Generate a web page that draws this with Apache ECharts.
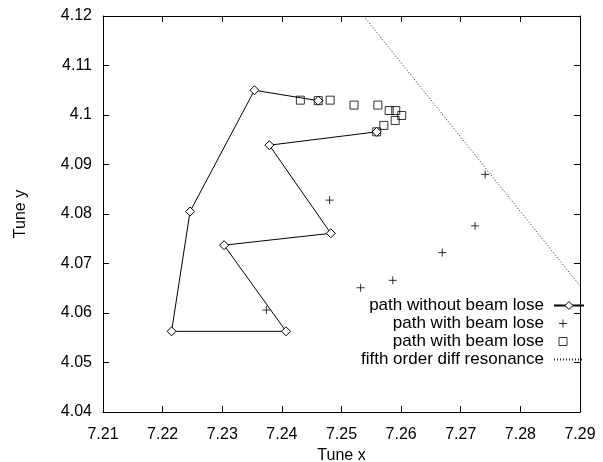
<!DOCTYPE html>
<html>
<head>
<meta charset="utf-8">
<script src="https://cdn.jsdelivr.net/npm/echarts@6/dist/echarts.min.js"></script>
<style>
  html, body { margin: 0; background: #fff; }
  #chart { width: 603px; height: 462px; }
</style>
</head>
<body>
<div id="chart"></div>
<script>
// tune points
const pathWithoutLoss = [
  [7.2559, 4.0966], [7.2379, 4.0939], [7.2482, 4.0761], [7.2303, 4.0737],
  [7.2407, 4.0563], [7.2215, 4.0563], [7.2246, 4.0805], [7.2354, 4.1050],
  [7.2461, 4.1029]
];
const pathWithLossPlus = [
  [7.2379, 4.0939], [7.2482, 4.0761], [7.2303, 4.0737], [7.2407, 4.0563],
  [7.2215, 4.0563], [7.2461, 4.1029], [7.2559, 4.0966], [7.2480, 4.0828],
  [7.2669, 4.0722], [7.2586, 4.0666], [7.2532, 4.0651], [7.2374, 4.0606],
  [7.2741, 4.0880], [7.2724, 4.0776]
];
const pathWithLossSquare = [
  [7.2431, 4.1030], [7.2461, 4.1029], [7.2481, 4.1030], [7.2521, 4.1020],
  [7.2561, 4.1020], [7.2580, 4.1009], [7.2591, 4.1009], [7.2601, 4.0999],
  [7.2590, 4.0989], [7.2571, 4.0979], [7.2559, 4.0966]
];
const resonanceLine = [[7.2537, 4.12], [7.29, 4.0655]];

const xRange = [7.21, 7.29];
const yRange = [4.04, 4.12];
const names = ['path without beam lose', 'path with beam lose', 'path with beam lose #2', 'fifth order diff resonance'];

const FONT = 'Liberation Sans, Arial, Helvetica, sans-serif';
const fmt = v => String(+v.toFixed(2));
const plusPath = 'path://M0,5L10,5M5,0L5,10';

const chart = echarts.init(document.getElementById('chart'));

const baseAxis = {
  interval: 0.01,
  axisLine: { show: true, onZero: false, lineStyle: { color: '#000', width: 1 } },
  axisTick: { show: true, inside: true, length: 6, lineStyle: { color: '#000' } },
  splitLine: { show: false },
  nameTextStyle: { fontFamily: FONT, fontSize: 16, color: '#000' },
  axisLabel: { fontFamily: FONT, fontSize: 16, color: '#000', formatter: fmt }
};

chart.setOption({
  animation: false,
  backgroundColor: '#fff',
  grid: { left: 103, right: 23, top: 16, bottom: 50, outerBoundsMode: 'none' },
  xAxis: [
    Object.assign({}, baseAxis, {
      type: 'value', min: xRange[0], max: xRange[1], position: 'bottom',
      name: 'Tune x', nameLocation: 'middle', nameGap: 32,
      axisLabel: Object.assign({}, baseAxis.axisLabel, { margin: 15, showMinLabel: true, showMaxLabel: true })
    }),
    Object.assign({}, baseAxis, {
      type: 'value', min: xRange[0], max: xRange[1], position: 'top',
      axisLabel: { show: false }
    })
  ],
  yAxis: [
    Object.assign({}, baseAxis, {
      type: 'value', min: yRange[0], max: yRange[1], position: 'left',
      name: 'Tune y', nameLocation: 'middle', nameGap: 74,
      axisLabel: Object.assign({}, baseAxis.axisLabel, { margin: 11, showMinLabel: true, showMaxLabel: true })
    }),
    Object.assign({}, baseAxis, {
      type: 'value', min: yRange[0], max: yRange[1], position: 'right',
      axisLabel: { show: false }
    })
  ],
  legend: {
    orient: 'vertical',
    align: 'right',
    right: 18,
    top: 297,
    padding: 0,
    itemGap: 1,
    itemWidth: 30,
    itemHeight: 10,
    selectedMode: false,
    formatter: n => n.replace(/ #2$/, ''),
    textStyle: { fontFamily: FONT, fontSize: 17, color: '#000', padding: [0, 5, 0, 0] },
    itemStyle: { borderWidth: 1 },
    data: [
      { name: names[0] },
      { name: names[1], icon: 'path://M0,0M30,10M5,5L13,5M9,1L9,9' },
      { name: names[2], icon: 'path://M0,0M30,10M5,1L13,1L13,9L5,9Z' },
      { name: names[3] }
    ]
  },
  series: [
    {
      name: names[0],
      type: 'line',
      data: pathWithoutLoss,
      symbol: 'diamond',
      symbolSize: 9,
      lineStyle: { color: '#000', width: 1 },
      itemStyle: { color: '#fff', borderColor: '#000', borderWidth: 1 }
    },
    {
      name: names[1],
      type: 'scatter',
      data: pathWithLossPlus,
      symbol: plusPath,
      symbolSize: 8,
      itemStyle: { color: '#000', borderColor: '#000', borderWidth: 1 }
    },
    {
      name: names[2],
      type: 'scatter',
      data: pathWithLossSquare,
      symbol: 'rect',
      symbolSize: 8,
      itemStyle: { color: 'rgba(0,0,0,0)', borderColor: '#000', borderWidth: 1 }
    },
    {
      name: names[3],
      type: 'line',
      data: resonanceLine,
      symbol: 'none',
      lineStyle: { color: '#222', width: 1, type: [1, 2] },
      itemStyle: { color: 'rgba(0,0,0,0)' }
    }
  ]
});
</script>
</body>
</html>
